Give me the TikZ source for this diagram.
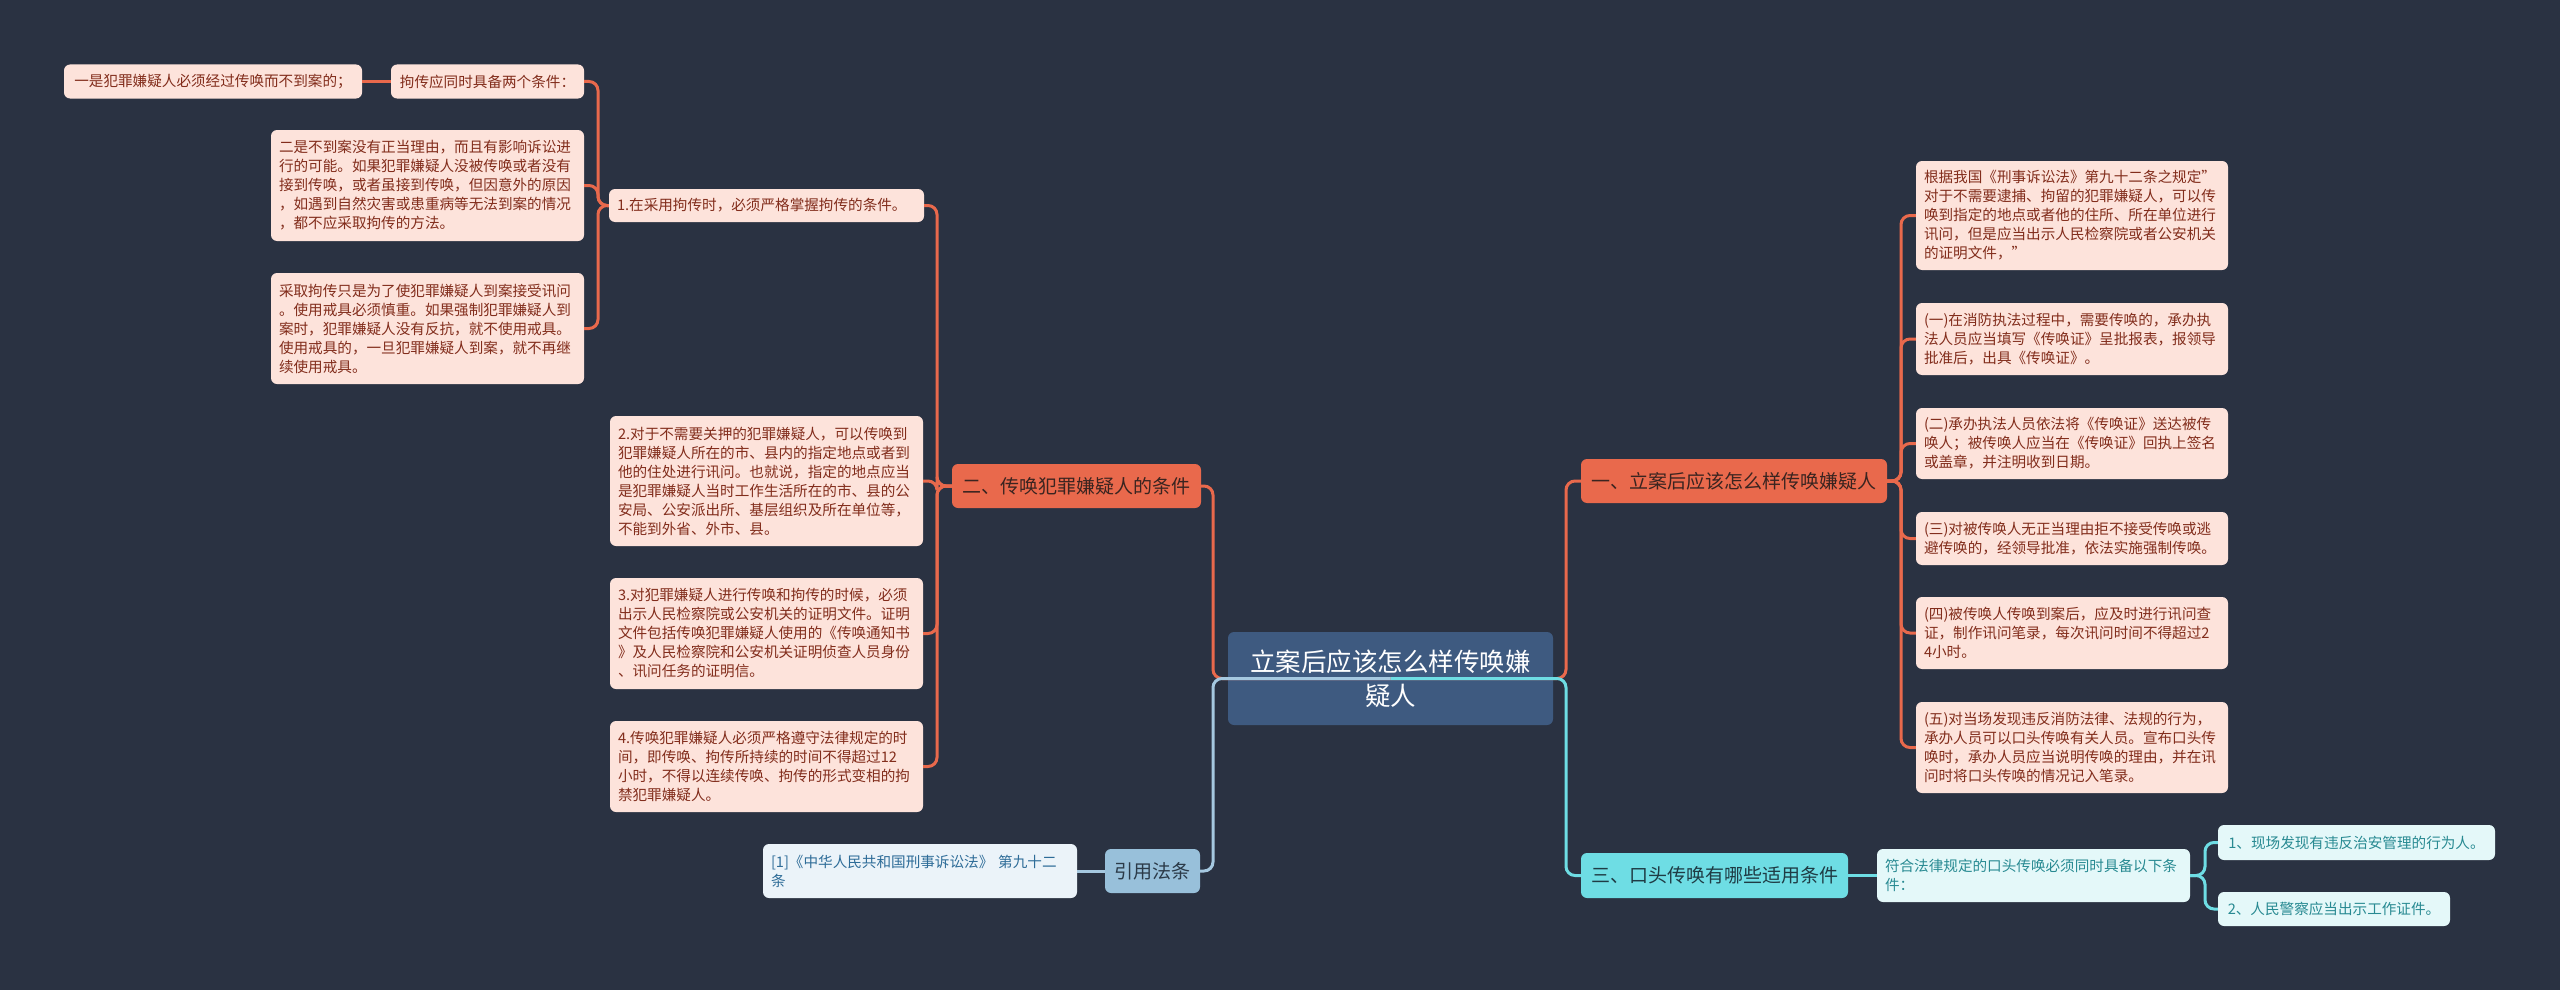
\documentclass[tikz,border=0pt]{standalone}
\usepackage{fontspec}
\setmainfont{Noto Sans CJK SC}
\definecolor{bgCol}{RGB}{42,50,66}
\definecolor{rootCol}{RGB}{62,90,128}
\definecolor{orgCol}{RGB}{233,105,76}
\definecolor{orgLeaf}{RGB}{253,227,219}
\definecolor{orgText}{RGB}{130,45,28}
\definecolor{orgDark}{RGB}{58,36,32}
\definecolor{cyaCol}{RGB}{110,221,228}
\definecolor{cyaLeaf}{RGB}{228,248,249}
\definecolor{cyaText}{RGB}{40,138,146}
\definecolor{cyaDark}{RGB}{31,59,68}
\definecolor{bluCol}{RGB}{152,192,218}
\definecolor{bluLeaf}{RGB}{235,243,249}
\definecolor{bluText}{RGB}{46,108,152}
\definecolor{bluDark}{RGB}{43,58,72}
\definecolor{bluLine}{RGB}{165,200,224}
\tikzset{
  box/.style={rounded corners=6pt,inner xsep=8pt,inner ysep=4pt},
  rootbox/.style={box,fill=rootCol,text=white,align=center,
                  font=\fontsize{25.5}{34}\selectfont},
  obranch/.style={box,fill=orgCol,text=orgDark,font=\fontsize{19}{24}\selectfont},
  cbranch/.style={box,fill=cyaCol,text=cyaDark,font=\fontsize{19}{24}\selectfont},
  bbranch/.style={box,fill=bluCol,text=bluDark,font=\fontsize{19}{24}\selectfont},
  oleaf/.style={box,fill=orgLeaf,text=orgText,align=left,font=\fontsize{14.6}{19}\selectfont},
  cleaf/.style={box,fill=cyaLeaf,text=cyaText,align=left,font=\fontsize{14.6}{19}\selectfont},
  bleaf/.style={box,fill=bluLeaf,text=bluText,align=left,font=\fontsize{14.6}{19}\selectfont},
  olink/.style={draw=orgCol,line width=3pt,rounded corners=9pt},
  clink/.style={draw=cyaCol,line width=3pt,rounded corners=9pt},
  blink/.style={draw=bluLine,line width=3pt,rounded corners=9pt},
}
\begin{document}
\begin{tikzpicture}[x=1pt,y=-1pt]
  \fill[bgCol] (0,0) rectangle (2560,990);
  \node[rootbox,minimum width=325,minimum height=93] (root) at (1390.5,678.5) {立案后应该怎么样传唤嫌\\疑人};

  % left: conditions
  \node[obranch,minimum width=249,minimum height=44] (cond) at (1076.5,486) {二、传唤犯罪嫌疑人的条件};
  \node[oleaf,text width=299,minimum height=33] (c1) at (766.5,205.5) {1.在采用拘传时，必须严格掌握拘传的条件。};
  \node[oleaf,text width=297,minimum height=130] (c2) at (766.5,481) {2.对于不需要关押的犯罪嫌疑人，可以传唤到\\犯罪嫌疑人所在的市、县内的指定地点或者到\\他的住处进行讯问。也就说，指定的地点应当\\是犯罪嫌疑人当时工作生活所在的市、县的公\\安局、公安派出所、基层组织及所在单位等，\\不能到外省、外市、县。};
  \node[oleaf,text width=297,minimum height=111] (c3) at (766.5,633.5) {3.对犯罪嫌疑人进行传唤和拘传的时候，必须\\出示人民检察院或公安机关的证明文件。证明\\文件包括传唤犯罪嫌疑人使用的《传唤通知书\\》及人民检察院和公安机关证明侦查人员身份\\、讯问任务的证明信。};
  \node[oleaf,text width=297,minimum height=91] (c4) at (766.5,766.5) {4.传唤犯罪嫌疑人必须严格遵守法律规定的时\\间，即传唤、拘传所持续的时间不得超过12\\小时，不得以连续传唤、拘传的形式变相的拘\\禁犯罪嫌疑人。};
  \node[oleaf,minimum width=193,minimum height=34] (need) at (487.5,81.5) {拘传应同时具备两个条件：};
  \node[oleaf,minimum width=298,minimum height=34] (need1) at (213,81.5) {一是犯罪嫌疑人必须经过传唤而不到案的；};
  \node[oleaf,text width=297,minimum height=111] (need2) at (427.5,185.5) {二是不到案没有正当理由，而且有影响诉讼进\\行的可能。如果犯罪嫌疑人没被传唤或者没有\\接到传唤，或者虽接到传唤，但因意外的原因\\，如遇到自然灾害或患重病等无法到案的情况\\，都不应采取拘传的方法。};
  \node[oleaf,text width=297,minimum height=111] (need3) at (427.5,328.5) {采取拘传只是为了使犯罪嫌疑人到案接受讯问\\。使用戒具必须慎重。如果强制犯罪嫌疑人到\\案时，犯罪嫌疑人没有反抗，就不使用戒具。\\使用戒具的，一旦犯罪嫌疑人到案，就不再继\\续使用戒具。};

  % left: law
  \node[bbranch,minimum width=95,minimum height=44] (law) at (1152.5,871) {引用法条};
  \node[bleaf,text width=298,minimum height=54] (lawref) at (920,871) {[1]《中华人民共和国刑事诉讼法》 第九十二\\条};

  % right: how
  \node[obranch,minimum width=306,minimum height=44] (how) at (1734,481) {一、立案后应该怎么样传唤嫌疑人};
  \node[oleaf,text width=296,minimum height=109] (h0) at (2072,215.5) {根据我国《刑事诉讼法》第九十二条之规定"\\对于不需要逮捕、拘留的犯罪嫌疑人，可以传\\唤到指定的地点或者他的住所、所在单位进行\\讯问，但是应当出示人民检察院或者公安机关\\的证明文件，"};
  \node[oleaf,text width=296,minimum height=72] (h1) at (2072,339) {(一)在消防执法过程中，需要传唤的，承办执\\法人员应当填写《传唤证》呈批报表，报领导\\批准后，出具《传唤证》。};
  \node[oleaf,text width=296,minimum height=71] (h2) at (2072,443.5) {(二)承办执法人员依法将《传唤证》送达被传\\唤人；被传唤人应当在《传唤证》回执上签名\\或盖章，并注明收到日期。};
  \node[oleaf,text width=296,minimum height=53] (h3) at (2072,538.5) {(三)对被传唤人无正当理由拒不接受传唤或逃\\避传唤的，经领导批准，依法实施强制传唤。};
  \node[oleaf,text width=296,minimum height=72] (h4) at (2072,633) {(四)被传唤人传唤到案后，应及时进行讯问查\\证，制作讯问笔录，每次讯问时间不得超过2\\4小时。};
  \node[oleaf,text width=296,minimum height=91] (h5) at (2072,747.5) {(五)对当场发现违反消防法律、法规的行为，\\承办人员可以口头传唤有关人员。宣布口头传\\唤时，承办人员应当说明传唤的理由，并在讯\\问时将口头传唤的情况记入笔录。};

  % right: oral
  \node[cbranch,minimum width=267,minimum height=45] (oral) at (1714.5,875.5) {三、口头传唤有哪些适用条件};
  \node[cleaf,text width=297,minimum height=53] (oralreq) at (2033.5,875.5) {符合法律规定的口头传唤必须同时具备以下条\\件：};
  \node[cleaf,minimum width=277,minimum height=35] (oral1) at (2356.5,842.5) {1、现场发现有违反治安管理的行为人。};
  \node[cleaf,minimum width=232,minimum height=34] (oral2) at (2334,909) {2、人民警察应当出示工作证件。};

  \coordinate (busL) at (1213,0);
  \coordinate (busR) at (1566,0);
  \coordinate (busA) at (598,0);
  \coordinate (busB) at (937,0);
  \coordinate (busC) at (1901,0);
  \coordinate (busD) at (2205,0);

  \foreach \n in {need,need2,need3} \draw[olink] (c1.west) -- (busA |- c1.west) |- (\n.east);
  \draw[olink] (need.west) -- (need1.east);
  \foreach \n in {c1,c2,c3,c4} \draw[olink] (cond.west) -- (busB |- cond.west) |- (\n.east);
  \foreach \n in {h0,h1,h2,h3,h4,h5} \draw[olink] (how.east) -- (busC |- how.east) |- (\n.west);
  \draw[olink] (root.center) -- (busL |- root.center) |- (cond.east);
  \draw[olink] (root.center) -- (busR |- root.center) |- (how.west);
  \draw[blink] (root.center) -- (busL |- root.center) |- (law.east);
  \draw[blink] (law.west) -- (lawref.east);
  \draw[clink] (root.center) -- (busR |- root.center) |- (oral.west);
  \draw[clink] (oral.east) -- (oralreq.west);
  \foreach \n in {oral1,oral2} \draw[clink] (oralreq.east) -- (busD |- oralreq.east) |- (\n.west);
\end{tikzpicture}
\end{document}
